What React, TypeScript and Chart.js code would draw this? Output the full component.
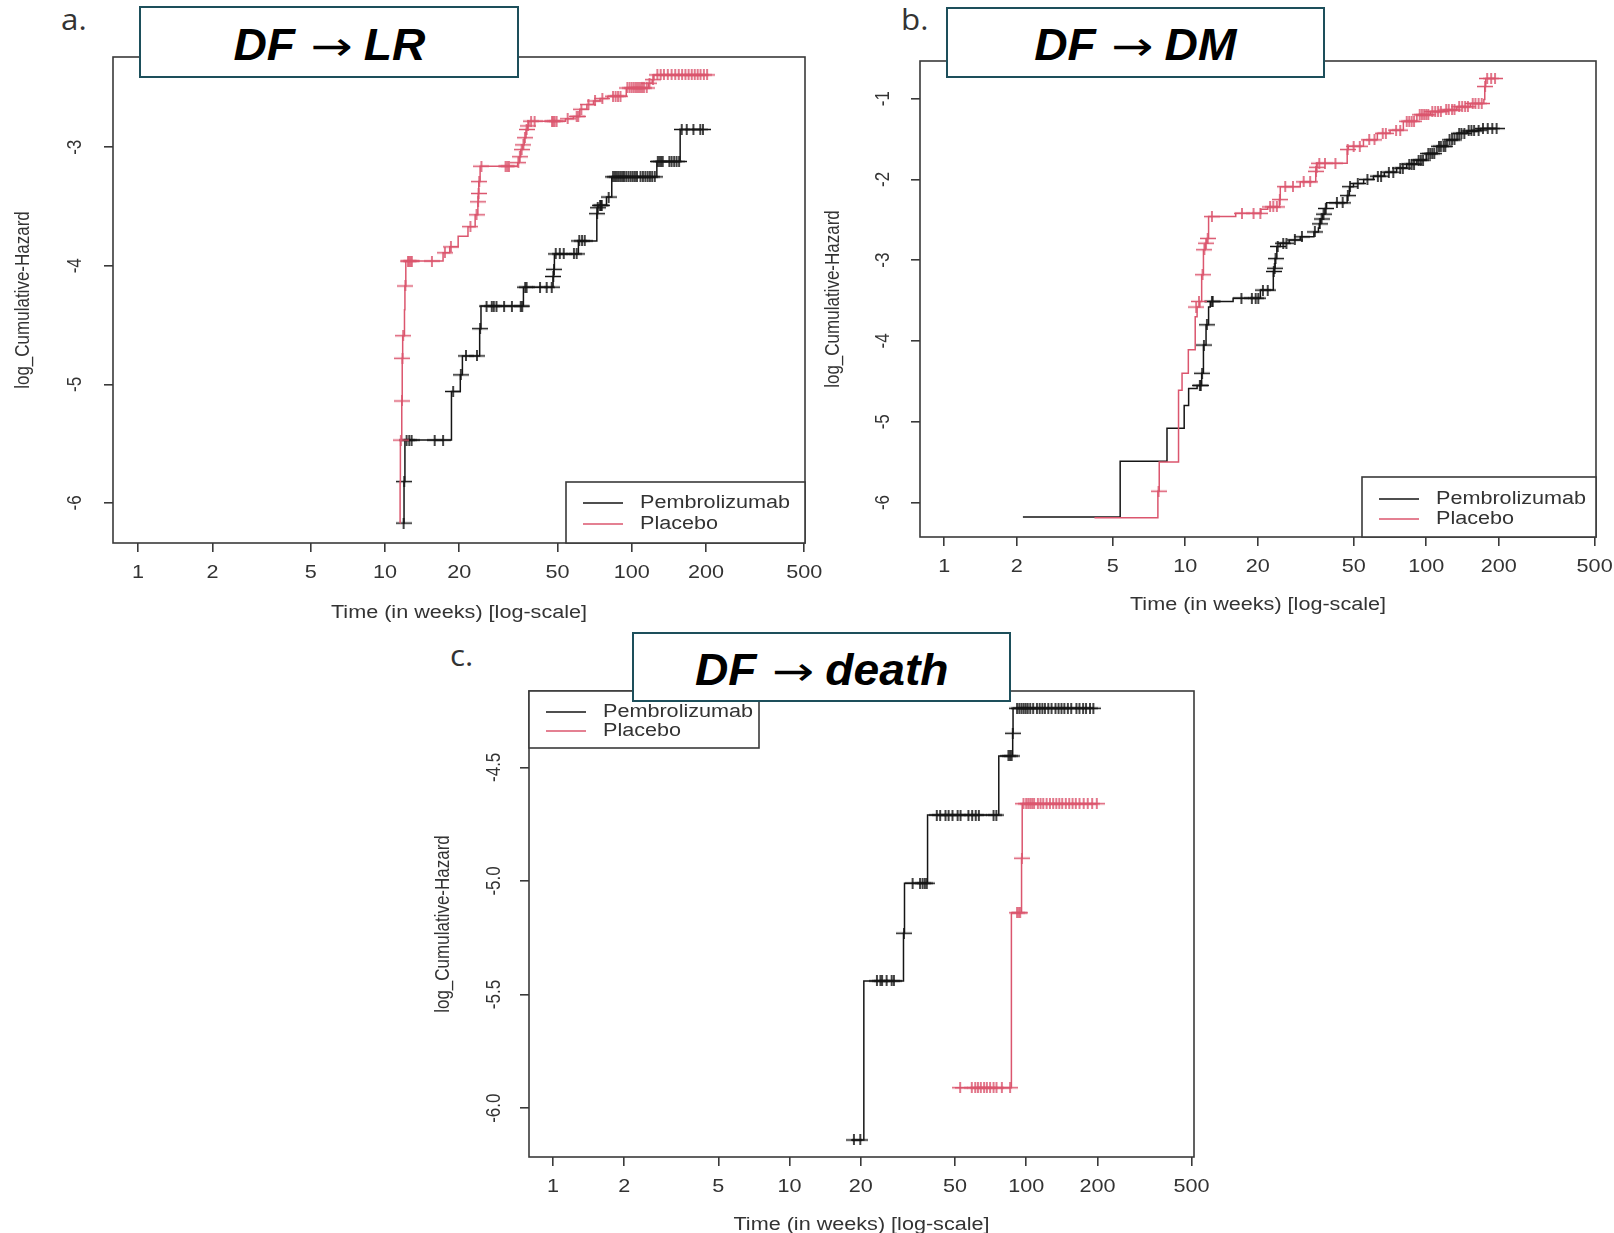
import React, { useEffect, useRef } from "react";
import { Chart, registerables } from "chart.js";
Chart.register(...registerables);

type Pt = [number, number];

// ---------------- data ----------------
const X_TICKS = [1, 2, 5, 10, 20, 50, 100, 200, 500];
const X_TICK_LABELS = ["1", "2", "5", "10", "20", "50", "100", "200", "500"];
const A_Y_TICKS = [-3, -4, -5, -6];
const A_Y_TICK_LABELS = ["-3", "-4", "-5", "-6"];
const B_Y_TICKS = [-1, -2, -3, -4, -5, -6];
const B_Y_TICK_LABELS = ["-1", "-2", "-3", "-4", "-5", "-6"];
const C_Y_TICKS = [-4.5, -5.0, -5.5, -6.0];
const C_Y_TICK_LABELS = ["-4.5", "-5.0", "-5.5", "-6.0"];
const SERIES_NAMES = ["Pembrolizumab", "Placebo"];
const X_TITLE = "Time (in weeks) [log-scale]";
const Y_TITLE = "log_Cumulative-Hazard";
const TITLE_FROM = ["DF", "DF", "DF"];
const TITLE_TO = ["LR", "DM", "death"];
const PANEL_LETTERS = ["a.", "b.", "c."];

// Panel a: DF -> LR
const A_PEMBRO_EVENTS: Pt[] = [
  [11.85, -6.17], [11.95, -5.82], [12.05, -5.47], [18.6, -5.06], [20.2, -4.92],
  [20.6, -4.76], [24.2, -4.53], [24.5, -4.34], [36.4, -4.18], [48.0, -4.09],
  [48.3, -4.03], [48.6, -3.9], [60.8, -3.79], [72.2, -3.56], [72.6, -3.51],
  [73.0, -3.49], [79.0, -3.42], [83.0, -3.25], [126.4, -3.12], [157.1, -2.85],
];
const A_PEMBRO_CENSOR: Pt[] = [
  [11.9, -6.17], [11.97, -5.82],
  [12.24, -5.47], [12.54, -5.47], [12.82, -5.47], [15.9, -5.47], [17.2, -5.47],
  [18.9, -5.06], [20.3, -4.92], [21.3, -4.76], [23.6, -4.76], [24.3, -4.53],
  [25.8, -4.34], [27.1, -4.34], [27.6, -4.34], [28.3, -4.34], [30.4, -4.34], [32.7, -4.34], [35.5, -4.34], [36.0, -4.34],
  [37.0, -4.18], [37.5, -4.18], [42.5, -4.18], [45.2, -4.18], [47.4, -4.18],
  [48.1, -4.09], [48.4, -4.03],
  [49.2, -3.9], [51.1, -3.9], [53.0, -3.9], [58.3, -3.9], [59.8, -3.9],
  [61.3, -3.79], [62.9, -3.79], [64.5, -3.79],
  [72.4, -3.56], [72.8, -3.51], [74.4, -3.49], [75.0, -3.49], [75.6, -3.49], [80.6, -3.42],
  [84, -3.25], [85.5, -3.25], [87, -3.25], [88.5, -3.25], [90, -3.25], [91.5, -3.25], [93, -3.25], [95, -3.25],
  [97, -3.25], [99, -3.25], [101, -3.25], [103, -3.25], [105, -3.25], [108.5, -3.25], [111, -3.25], [113.5, -3.25],
  [116, -3.25], [118.5, -3.25], [121, -3.25], [124, -3.25],
  [127.5, -3.12], [129.5, -3.12], [131.5, -3.12], [133.5, -3.12], [142, -3.12], [145, -3.12], [148.5, -3.12], [152, -3.12], [155.5, -3.12],
  [159.4, -2.85], [167, -2.85], [177.8, -2.85], [189.5, -2.85], [194.3, -2.85],
];
const A_PLACEBO_EVENTS: Pt[] = [
  [11.5, -6.17], [11.52, -5.82], [11.55, -5.47], [11.7, -5.14], [11.75, -4.78],
  [11.8, -4.59], [12.0, -4.37], [12.05, -4.17], [12.15, -3.96], [17.2, -3.89],
  [18.3, -3.84], [19.8, -3.75], [21.7, -3.67], [23.2, -3.57], [23.8, -3.46],
  [23.9, -3.39], [24.0, -3.29], [24.3, -3.16], [34.5, -3.13], [35.0, -3.08],
  [35.5, -3.02], [36.2, -2.98], [36.7, -2.92], [37.3, -2.85], [37.8, -2.82],
  [38.3, -2.78], [53.9, -2.76], [58.0, -2.74], [61.6, -2.68], [65.8, -2.64],
  [70.0, -2.61], [74.4, -2.59], [80.0, -2.57], [95.0, -2.5], [117.0, -2.46],
  [121.0, -2.43], [123.0, -2.39],
];
const A_PLACEBO_CENSOR: Pt[] = [
  [11.6, -5.47], [11.72, -5.14], [11.78, -4.78], [11.85, -4.59], [12.1, -4.17],
  [12.4, -3.96], [12.55, -3.96], [12.7, -3.96], [12.85, -3.96], [15.5, -3.96],
  [17.5, -3.89], [18.5, -3.84], [22.2, -3.67], [23.5, -3.57],
  [23.85, -3.46], [23.95, -3.39], [24.1, -3.29], [24.6, -3.16],
  [30.8, -3.16], [31.3, -3.16], [31.8, -3.16],
  [34.7, -3.13], [35.2, -3.08], [35.8, -3.02], [36.4, -2.98], [36.9, -2.92], [37.5, -2.85], [38.0, -2.82],
  [39.1, -2.78], [40.4, -2.78], [47.5, -2.78], [48.1, -2.78], [48.7, -2.78], [49.6, -2.78],
  [55, -2.76], [59.8, -2.74], [60.7, -2.74], [62.5, -2.68], [66.8, -2.64], [71, -2.61], [76, -2.59],
  [84, -2.57], [86, -2.57], [88, -2.57], [90, -2.57],
  [96, -2.5], [98, -2.5], [100, -2.5], [102, -2.5], [104, -2.5], [106, -2.5], [108, -2.5], [110, -2.5], [112, -2.5], [115, -2.5],
  [118, -2.46], [122, -2.43],
  [127, -2.39], [131, -2.39], [135, -2.39], [140, -2.39], [145, -2.39], [150, -2.39], [155, -2.39], [160, -2.39],
  [165, -2.39], [170, -2.39], [175, -2.39], [180, -2.39], [185, -2.39], [190, -2.39], [196, -2.39], [202, -2.39],
];

// Panel b: DF -> DM
const B_PEMBRO_EVENTS: Pt[] = [
  [2.12, -6.18], [5.37, -5.49], [8.4, -5.08], [9.9, -4.8], [10.33, -4.59],
  [11.2, -4.55], [11.7, -4.4], [11.9, -4.05], [12.2, -3.8], [12.5, -3.58],
  [12.7, -3.51], [15.8, -3.47], [20.5, -3.37], [23.2, -3.14], [23.4, -3.1],
  [23.6, -2.98], [24.0, -2.83], [24.8, -2.79], [27.0, -2.75], [30.0, -2.71],
  [34.2, -2.65], [35.7, -2.6], [36.0, -2.55], [36.5, -2.49], [37.2, -2.43],
  [38.0, -2.36], [38.6, -2.29], [47.0, -2.2], [48.0, -2.09], [49.9, -2.05],
  [55.0, -2.0], [60.4, -1.96], [67.0, -1.91], [75.4, -1.86], [83.0, -1.81],
  [91.5, -1.76], [100.0, -1.68], [110.8, -1.59], [122.0, -1.51], [134.3, -1.43],
  [148.0, -1.4], [162.7, -1.39], [168.0, -1.37],
];
const B_PEMBRO_CENSOR: Pt[] = [
  [11.5, -4.55], [11.6, -4.55], [11.75, -4.4], [11.95, -4.05], [12.3, -3.8],
  [12.9, -3.51], [13.0, -3.51], [17.1, -3.47], [18.9, -3.47], [19.6, -3.47], [20.1, -3.47],
  [21.0, -3.37], [22.0, -3.37], [23.3, -3.14], [23.5, -3.1], [23.7, -2.98], [24.2, -2.83],
  [25.5, -2.79], [26.3, -2.79], [28.5, -2.75], [30.5, -2.71], [34.5, -2.65],
  [36.2, -2.55], [36.8, -2.49], [37.5, -2.43], [38.3, -2.36], [42.6, -2.29], [45.0, -2.29],
  [47.3, -2.2], [48.3, -2.09], [52, -2.05], [57, -2.0], [63, -1.96], [65, -1.96],
  [70, -1.91], [73, -1.91], [78, -1.86], [80, -1.86], [85, -1.81], [87, -1.81], [89, -1.81],
  [93, -1.76], [95, -1.76], [97, -1.76], [102, -1.68], [104, -1.68], [106, -1.68], [108, -1.68],
  [113, -1.59], [115, -1.59], [118, -1.59], [120, -1.59], [125, -1.51], [128, -1.51], [131, -1.51],
  [137, -1.43], [140, -1.43], [144, -1.43], [150, -1.4], [154, -1.4], [158, -1.4], [165, -1.39],
  [172, -1.37], [180, -1.37], [188, -1.37], [196, -1.37],
];
const B_PLACEBO_EVENTS: Pt[] = [
  [4.2, -6.19], [7.7, -5.86], [7.8, -5.5], [9.38, -4.61], [9.7, -4.4],
  [10.3, -4.11], [11.0, -3.7], [11.2, -3.58], [11.5, -3.51], [11.7, -3.18],
  [11.9, -2.87], [12.1, -2.79], [12.3, -2.73], [12.5, -2.46], [16.2, -2.42],
  [20.6, -2.37], [22.0, -2.34], [24.6, -2.25], [24.8, -2.09], [30.0, -2.03],
  [34.8, -1.9], [35.0, -1.85], [35.2, -1.8], [47.0, -1.63], [47.5, -1.59],
  [54.9, -1.51], [62.7, -1.43], [70.8, -1.39], [80.4, -1.28], [91.5, -1.2],
  [104.0, -1.16], [118.0, -1.14], [134.0, -1.1], [152.5, -1.06], [173.5, -1.01],
  [175.0, -0.85], [176.5, -0.75],
];
const B_PLACEBO_CENSOR: Pt[] = [
  [7.75, -5.86], [11.1, -3.58], [11.4, -3.51], [11.8, -3.18], [12.0, -2.87], [12.2, -2.79], [12.4, -2.73],
  [12.9, -2.46], [17.2, -2.42], [19.2, -2.42], [20.5, -2.42], [22.5, -2.34], [23.2, -2.34], [24.0, -2.34],
  [24.7, -2.25], [26, -2.09], [28, -2.09], [31, -2.03], [33, -2.03],
  [34.9, -1.9], [35.1, -1.85], [36, -1.8], [38, -1.8], [42, -1.8],
  [47.2, -1.63], [50, -1.59], [53, -1.59], [58, -1.51], [61, -1.51], [66, -1.43], [68, -1.43],
  [75, -1.39], [78, -1.39], [83, -1.28], [85, -1.28], [87, -1.28], [89, -1.28],
  [94, -1.2], [96, -1.2], [98, -1.2], [100, -1.2], [102, -1.2], [106, -1.16], [109, -1.16], [112, -1.16], [115, -1.16],
  [121, -1.14], [124, -1.14], [128, -1.14], [131, -1.14], [137, -1.1], [141, -1.1], [145, -1.1], [149, -1.1],
  [156, -1.06], [160, -1.06], [165, -1.06], [170, -1.06], [175.5, -0.85], [179, -0.75], [186, -0.75], [193, -0.75],
];

// Panel c: DF -> death
const C_PEMBRO_EVENTS: Pt[] = [
  [18.2, -6.14], [20.6, -5.44], [30.3, -5.23], [30.6, -5.01], [38.3, -4.71],
  [76.6, -4.45], [87.7, -4.35], [88.0, -4.24],
];
const C_PEMBRO_CENSOR: Pt[] = [
  [18.7, -6.14], [19.9, -6.14],
  [23.4, -5.44], [24.2, -5.44], [24.6, -5.44], [25.7, -5.44], [27.0, -5.44], [27.6, -5.44],
  [30.45, -5.23],
  [33.1, -5.01], [35.6, -5.01], [36.5, -5.01], [37.3, -5.01], [38.0, -5.01],
  [41.9, -4.71], [43.3, -4.71], [45.6, -4.71], [47.0, -4.71], [48.8, -4.71], [51.3, -4.71], [52.8, -4.71],
  [57.0, -4.71], [59.1, -4.71], [61.2, -4.71], [63.1, -4.71], [72.8, -4.71], [74.8, -4.71],
  [84.1, -4.45], [85.5, -4.45], [86.8, -4.45], [87.8, -4.35],
  [91.5, -4.24], [93.5, -4.24], [95.5, -4.24], [97.5, -4.24], [99.5, -4.24], [101.5, -4.24], [104, -4.24],
  [107, -4.24], [111, -4.24], [114, -4.24], [117, -4.24], [120, -4.24], [124, -4.24], [128, -4.24],
  [133, -4.24], [137, -4.24], [141, -4.24], [145, -4.24], [150, -4.24], [155, -4.24], [163, -4.24],
  [168, -4.24], [174, -4.24], [179, -4.24], [186, -4.24], [192.3, -4.24],
];
const C_PLACEBO_EVENTS: Pt[] = [
  [50.0, -5.91], [86.6, -5.14], [95.6, -4.9], [96.2, -4.66],
];
const C_PLACEBO_CENSOR: Pt[] = [
  [52.6, -5.91], [58.9, -5.91], [60.9, -5.91], [62.5, -5.91], [64.3, -5.91], [66.4, -5.91], [68.2, -5.91],
  [70.4, -5.91], [72.8, -5.91], [74.9, -5.91], [78.9, -5.91], [85.5, -5.91],
  [91.5, -5.14], [93.0, -5.14], [94.3, -5.14], [95.9, -4.9],
  [97.4, -4.66], [100, -4.66], [102, -4.66], [104, -4.66], [106, -4.66], [108, -4.66], [112, -4.66],
  [115, -4.66], [118, -4.66], [122, -4.66], [126, -4.66], [130, -4.66], [134, -4.66], [138, -4.66],
  [142, -4.66], [147, -4.66], [152, -4.66], [157, -4.66], [162, -4.66], [168, -4.66], [175, -4.66],
  [182, -4.66], [190, -4.66], [198.8, -4.66],
];

// ---------------- styling / layout ----------------
const BLACK = "#151515";
const RED = "#DB566E";
const FRAME = "#3a3a3a";
const TEXT = "#333333";
const FONT = '"Liberation Sans", Arial, sans-serif';
const SX = 1.2; // horizontal stretch of the source figure's text
const PL = 105, PR = 40, PT = 10, PB = 90;

type Box = { l: number; t: number; r: number; b: number };
interface PanelCfg {
  box: Box;
  xMin: number; xMax: number; yMin: number; yMax: number;
  yTicks: number[]; yTickLabels: string[];
  pembro: Pt[]; pembroC: Pt[]; placebo: Pt[]; placeboC: Pt[];
  legendAt: "br" | "tl"; legW: number; legH: number; legRows: number[];
  yTickDx: number; yTitleDx: number; xTitleDy: number;
}

const PANELS: PanelCfg[] = [
  {
    box: { l: 113, t: 57, r: 805, b: 543 },
    xMin: 0.791, xMax: 503.5, yMin: -6.338, yMax: -2.239,
    yTicks: A_Y_TICKS, yTickLabels: A_Y_TICK_LABELS,
    pembro: A_PEMBRO_EVENTS, pembroC: A_PEMBRO_CENSOR, placebo: A_PLACEBO_EVENTS, placeboC: A_PLACEBO_CENSOR,
    legendAt: "br", legW: 239, legH: 61, legRows: [21, 42],
    yTickDx: 38, yTitleDx: 90, xTitleDy: 70,
  },
  {
    box: { l: 920, t: 61, r: 1596, b: 537 },
    xMin: 0.793, xMax: 506.6, yMin: -6.427, yMax: -0.534,
    yTicks: B_Y_TICKS, yTickLabels: B_Y_TICK_LABELS,
    pembro: B_PEMBRO_EVENTS, pembroC: B_PEMBRO_CENSOR, placebo: B_PLACEBO_EVENTS, placeboC: B_PLACEBO_CENSOR,
    legendAt: "br", legW: 234, legH: 60, legRows: [22, 42],
    yTickDx: 37, yTitleDx: 87, xTitleDy: 68,
  },
  {
    box: { l: 529, t: 691, r: 1194, b: 1157 },
    xMin: 0.792, xMax: 512, yMin: -6.215, yMax: -4.164,
    yTicks: C_Y_TICKS, yTickLabels: C_Y_TICK_LABELS,
    pembro: C_PEMBRO_EVENTS, pembroC: C_PEMBRO_CENSOR, placebo: C_PLACEBO_EVENTS, placeboC: C_PLACEBO_CENSOR,
    legendAt: "tl", legW: 230, legH: 57, legRows: [21, 40],
    yTickDx: 35, yTitleDx: 86, xTitleDy: 68,
  },
];

const TITLE_BOXES = [
  { l: 139, t: 6, w: 380, h: 72 },
  { l: 946, t: 7, w: 379, h: 71 },
  { l: 632, t: 632, w: 379, h: 70 },
];
const LETTER_POS = [
  { l: 61, base: 29.5 },
  { l: 901, base: 29.7 },
  { l: 450, base: 666 },
];

function makePlus(color: string): HTMLCanvasElement {
  const w = 16, h = 11;
  const c = document.createElement("canvas");
  c.width = w; c.height = h;
  const g = c.getContext("2d")!;
  g.strokeStyle = color;
  g.lineWidth = 1.6;
  g.beginPath();
  g.moveTo(0, h / 2); g.lineTo(w, h / 2);
  g.moveTo(w / 2, 0); g.lineTo(w / 2, h);
  g.stroke();
  return c;
}

function stepData(events: Pt[], censors: Pt[]) {
  const pts = events.map(([x, y]) => ({ x, y }));
  const last = events[events.length - 1];
  const tEnd = Math.max(...censors.map((c) => c[0]));
  if (tEnd > last[0]) pts.push({ x: tEnd, y: last[1] });
  return pts;
}

function drawText(ctx: CanvasRenderingContext2D, text: string, x: number, y: number, size: number,
  rotate = false, align: CanvasTextAlign = "center") {
  ctx.save();
  ctx.translate(x, y);
  if (rotate) { ctx.rotate(-Math.PI / 2); ctx.scale(1, SX); } else { ctx.scale(SX, 1); }
  ctx.font = `${size}px ${FONT}`;
  ctx.fillStyle = TEXT;
  ctx.textAlign = align;
  ctx.textBaseline = "middle";
  ctx.fillText(text, 0, 0);
  ctx.restore();
}

function Panel({ cfg }: { cfg: PanelCfg }) {
  const ref = useRef<HTMLCanvasElement>(null);
  const w = cfg.box.r - cfg.box.l + PL + PR;
  const h = cfg.box.b - cfg.box.t + PT + PB;

  useEffect(() => {
    const plusBlack = makePlus(BLACK);
    const plusRed = makePlus(RED);
    const decor = {
      id: "rdecor",
      afterDraw(chart: any) {
        const ctx: CanvasRenderingContext2D = chart.ctx;
        const ca = chart.chartArea;
        const xs = chart.scales.x;
        const ys = chart.scales.y;
        ctx.save();
        ctx.strokeStyle = FRAME;
        ctx.lineWidth = 1.6;
        ctx.strokeRect(ca.left, ca.top, ca.right - ca.left, ca.bottom - ca.top);
        X_TICKS.forEach((v, i) => drawText(ctx, X_TICK_LABELS[i], xs.getPixelForValue(v), ca.bottom + 30, 18));
        drawText(ctx, X_TITLE, (ca.left + ca.right) / 2, ca.bottom + cfg.xTitleDy, 18);
        cfg.yTicks.forEach((v, i) => drawText(ctx, cfg.yTickLabels[i], ca.left - cfg.yTickDx, ys.getPixelForValue(v), 17, true));
        drawText(ctx, Y_TITLE, ca.left - cfg.yTitleDx, (ca.top + ca.bottom) / 2, 17, true);
        const lx = cfg.legendAt === "br" ? ca.right - cfg.legW : ca.left;
        const ly = cfg.legendAt === "br" ? ca.bottom - cfg.legH : ca.top;
        ctx.fillStyle = "#ffffff";
        ctx.fillRect(lx, ly, cfg.legW, cfg.legH);
        ctx.strokeStyle = FRAME;
        ctx.lineWidth = 1.6;
        ctx.strokeRect(lx, ly, cfg.legW, cfg.legH);
        [BLACK, RED].forEach((col, i) => {
          const yy = ly + cfg.legRows[i];
          ctx.strokeStyle = col;
          ctx.lineWidth = 1.5;
          ctx.beginPath();
          ctx.moveTo(lx + 17, yy);
          ctx.lineTo(lx + 57, yy);
          ctx.stroke();
          drawText(ctx, SERIES_NAMES[i], lx + 74, yy, 18, false, "left");
        });
        ctx.restore();
      },
    };

    const axisCommon = {
      ticks: { display: false },
      border: { display: false },
      grid: { drawOnChartArea: false, drawTicks: true, tickLength: 9, color: FRAME, lineWidth: 1.6 },
    };

    const chart = new Chart(ref.current!, {
      type: "scatter",
      data: {
        datasets: [
          {
            label: SERIES_NAMES[1] + " censored",
            data: cfg.placeboC.map(([x, y]) => ({ x, y })),
            pointStyle: plusRed as any, pointRadius: 4, showLine: false,
            borderColor: RED, backgroundColor: RED,
          },
          {
            label: SERIES_NAMES[1],
            data: stepData(cfg.placebo, cfg.placeboC),
            showLine: true, stepped: true, pointRadius: 0,
            borderColor: RED, borderWidth: 1.5, backgroundColor: RED, fill: false,
          },
          {
            label: SERIES_NAMES[0] + " censored",
            data: cfg.pembroC.map(([x, y]) => ({ x, y })),
            pointStyle: plusBlack as any, pointRadius: 4, showLine: false,
            borderColor: BLACK, backgroundColor: BLACK,
          },
          {
            label: SERIES_NAMES[0],
            data: stepData(cfg.pembro, cfg.pembroC),
            showLine: true, stepped: true, pointRadius: 0,
            borderColor: BLACK, borderWidth: 1.5, backgroundColor: BLACK, fill: false,
          },
        ] as any,
      },
      options: {
        animation: false,
        responsive: false,
        devicePixelRatio: 1,
        events: [],
        layout: { padding: { top: PT, right: PR, left: 0, bottom: 0 } },
        plugins: { legend: { display: false }, tooltip: { enabled: false } },
        scales: {
          x: {
            type: "logarithmic",
            min: cfg.xMin, max: cfg.xMax,
            afterBuildTicks: (s: any) => { s.ticks = X_TICKS.map((v) => ({ value: v })); },
            afterFit: (s: any) => { s.height = PB; },
            ...axisCommon,
          } as any,
          y: {
            type: "linear",
            min: cfg.yMin, max: cfg.yMax,
            afterBuildTicks: (s: any) => { s.ticks = cfg.yTicks.map((v) => ({ value: v })); },
            afterFit: (s: any) => { s.width = PL; },
            ...axisCommon,
          } as any,
        },
      },
      plugins: [decor],
    });
    return () => chart.destroy();
  }, []);

  return (
    <canvas
      ref={ref}
      width={w}
      height={h}
      style={{ position: "absolute", left: cfg.box.l - PL, top: cfg.box.t - PT, width: w, height: h }}
    />
  );
}

export default function App() {
  return (
    <div style={{ position: "absolute", left: 0, top: 0, width: 1614, height: 1233, background: "#fff", overflow: "hidden" }}>
      {PANELS.map((p, i) => <Panel key={i} cfg={p} />)}
      {TITLE_BOXES.map((b, i) => (
        <div
          key={"t" + i}
          style={{
            position: "absolute", left: b.l, top: b.t, width: b.w, height: b.h, boxSizing: "border-box",
            border: "2.5px solid #1d4f5b", background: "#fff", display: "flex", alignItems: "center",
            justifyContent: "center", paddingTop: 5,
          }}
        >
          <span style={{
            fontFamily: FONT, fontWeight: "bold", fontStyle: "italic", fontSize: 44, color: "#000",
            display: "inline-block", transform: "scaleX(1.05)", whiteSpace: "nowrap", lineHeight: 1,
          }}>
            {TITLE_FROM[i]}
            <span style={{
              fontFamily: '"DejaVu Sans", sans-serif', fontWeight: "normal", fontStyle: "normal",
              fontSize: 40, margin: "0 14px 0 18px", display: "inline-block", transform: "scaleX(1.2)",
            }}>{"\u2192"}</span>
            {TITLE_TO[i]}
          </span>
        </div>
      ))}
      {LETTER_POS.map((p, i) => (
        <div
          key={"l" + i}
          style={{
            position: "absolute", left: p.l, top: p.base - 26, fontFamily: '"Open Sans", sans-serif',
            fontSize: 29, lineHeight: "29px", color: "#333", transform: "scaleX(1.08)", transformOrigin: "left",
          }}
        >{PANEL_LETTERS[i]}</div>
      ))}
    </div>
  );
}
